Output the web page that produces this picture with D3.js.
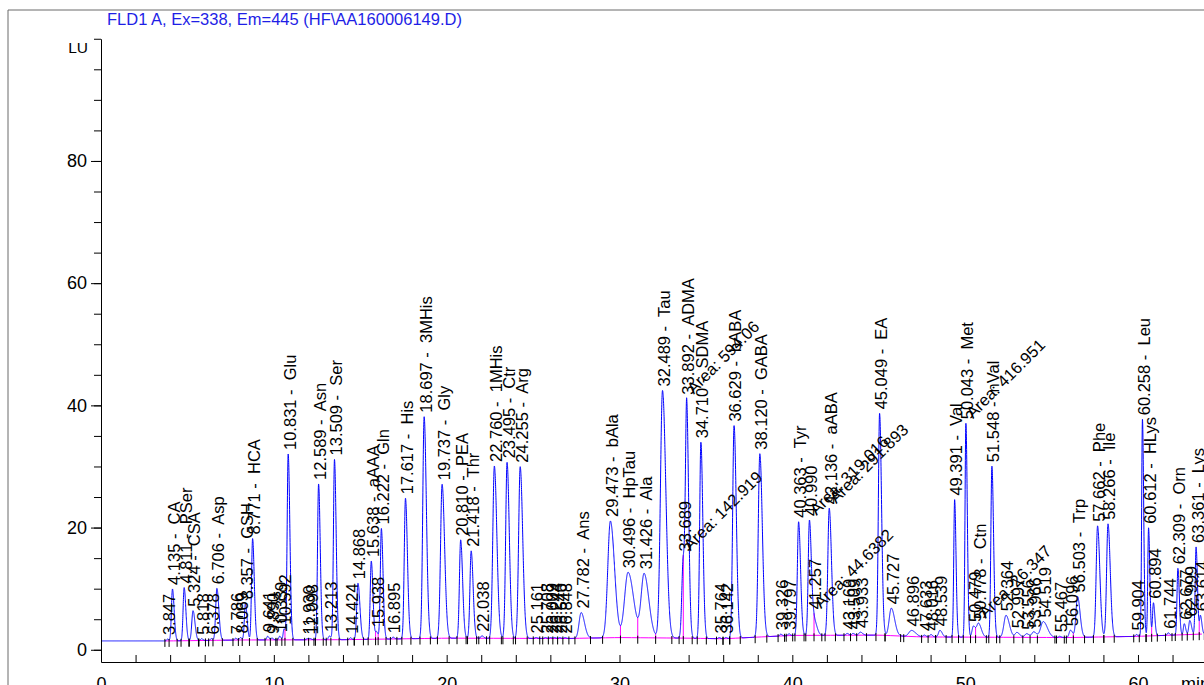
<!DOCTYPE html>
<html>
<head>
<meta charset="utf-8">
<script src="https://cdn.jsdelivr.net/npm/d3@7"></script>
<style>
  body { margin: 0; background: #fff; }
  svg { display: block; font-family: "Liberation Sans", Arial, sans-serif; }
  .lbl { white-space: pre; font-size: 16.5px; fill: #000; }
</style>
</head>
<body>
<div id="chart"></div>
<script>
// retention times (min)
const peakTimes = [
  3.847, 4.135, 4.811, 5.324, 5.818, 6.378, 6.706, 7.786, 8.069, 8.357,
  8.771, 9.641, 9.890, 10.339, 10.592, 10.831, 11.930, 12.098, 12.589, 13.213,
  13.509, 14.424, 14.868, 15.638, 15.938, 16.222, 16.895, 17.617, 18.697, 19.737,
  20.810, 21.418, 22.038, 22.760, 23.495, 24.255, 25.161, 25.708, 26.009, 26.244,
  26.540, 26.848, 27.782, 29.473, 30.496, 31.426, 32.489, 33.689, 33.892, 34.710,
  35.764, 36.142, 36.629, 38.120, 39.326, 39.797, 40.363, 40.990, 41.257, 42.136,
  43.169, 43.509, 43.933, 45.049, 45.727, 46.896, 47.633, 48.016, 48.539, 49.391,
  50.043, 50.479, 50.778, 51.548, 52.364, 52.997, 53.556, 53.966, 54.519, 55.467,
  56.096, 56.503, 57.662, 58.266, 59.904, 60.258, 60.612, 60.894, 61.744, 62.309,
  62.677, 62.999, 63.361, 63.614
];
// peak heights above baseline (LU)
const peakHeights = [
  0.3, 8.5, 8.7, 4.9, 0.3, 0.3, 8.5, 0.3, 0.4, 6.0,
  16.6, 0.6, 0.3, 0.6, 1.8, 30.4, 0.2, 0.2, 25.5, 0.6,
  29.5, 0.3, 9.2, 12.8, 1.2, 18.1, 0.3, 23.0, 36.3, 25.2,
  16.1, 14.3, 0.4, 28.2, 28.8, 28.1, 0.15, 0.15, 0.15, 0.15,
  0.15, 0.15, 4.2, 19.1, 10.7, 10.4, 40.5, 13.0, 35.5, 32.1,
  0.2, 0.2, 34.8, 30.0, 0.3, 0.3, 18.6, 18.8, 2.5, 20.8,
  0.3, 0.3, 0.5, 36.3, 4.5, 1.0, 0.3, 0.4, 1.1, 22.5,
  35.0, 1.8, 2.2, 28.0, 3.6, 0.8, 0.6, 0.9, 2.6, 0.2,
  1.2, 6.7, 18.2, 18.5, 0.3, 35.5, 17.7, 5.4, 0.4, 10.9,
  1.8, 2.3, 14.3, 3.0
];
// peak widths (front sigma, min)
const peakWidths = [
  0.05, 0.06, 0.06, 0.07, 0.05, 0.05, 0.07, 0.05, 0.05, 0.06,
  0.06, 0.05, 0.05, 0.05, 0.05, 0.06, 0.05, 0.05, 0.06, 0.06,
  0.06, 0.05, 0.07, 0.06, 0.06, 0.06, 0.05, 0.07, 0.08, 0.09,
  0.07, 0.07, 0.06, 0.09, 0.08, 0.09, 0.05, 0.05, 0.05, 0.05,
  0.05, 0.05, 0.12, 0.15, 0.2, 0.17, 0.12, 0.08, 0.07, 0.07,
  0.05, 0.05, 0.08, 0.09, 0.05, 0.05, 0.07, 0.07, 0.1, 0.08,
  0.06, 0.06, 0.08, 0.07, 0.12, 0.15, 0.06, 0.06, 0.08, 0.05,
  0.05, 0.08, 0.1, 0.06, 0.12, 0.1, 0.1, 0.1, 0.15, 0.06,
  0.08, 0.09, 0.08, 0.08, 0.05, 0.045, 0.045, 0.05, 0.05, 0.05,
  0.05, 0.06, 0.05, 0.05
];
const peakNames = [
  "", "CA", "PSer", "CSA", "", "", "Asp", "", "", "GSH",
  "HCA", "", "", "", "", "Glu", "", "", "Asn", "",
  "Ser", "", "", "aAAA", "", "Gln", "", "His", "3MHis", "Gly",
  "PEA", "Thr", "", "1MHis", "Ctr", "Arg", "", "", "", "",
  "", "", "Ans", "bAla", "HpTau", "Ala", "Tau", "", "ADMA", "SDMA",
  "", "", "bABA", "GABA", "", "", "Tyr", "", "", "aABA",
  "", "", "", "EA", "", "", "", "", "", "Val",
  "Met", "", "Ctn", "nVal", "", "", "", "", "", "",
  "", "Trp", "Phe", "Ile", "", "Leu", "HLys", "", "", "Orn",
  "", "", "Lys", ""
];
const areaTimes = [33.689, 33.892, 40.990, 41.257, 42.136, 50.043, 50.778];
const areaTexts = ["Area: 142.919", "Area: 594.06", "Area: 319.016", "Area: 44.6382",
                   "Area: 291.893", "Area: 416.951", "Area: 26.347"];
const baseTimes = [0, 4, 8, 14, 20, 27, 30, 34, 36, 40, 45, 47.5, 56, 60, 64];
const baseValues = [1.45, 1.45, 1.6, 1.65, 1.9, 1.85, 2.0, 1.9, 1.8, 2.35, 2.4, 2.1, 2.0, 2.2, 2.6];
const yMajorTicks = [0, 20, 40, 60, 80];
const xLabelTicks = [0, 10, 20, 30, 40, 50, 60];

const width = 1204, height = 685;
const margin = { left: 101, top: 38.75, axisY: 662 };

const svg = d3.select("#chart").append("svg")
  .attr("width", width).attr("height", height);

const x = d3.scaleLinear().domain([0, 64]).range([margin.left, margin.left + 64 * 17.283]);
const y = d3.scaleLinear().domain([-2, 100]).range([margin.axisY, margin.top]);
const base = d3.scaleLinear().domain(baseTimes).range(baseValues);

// outer frame
svg.append("path")
  .attr("d", `M8,${height} V10 H${width}`)
  .attr("fill", "none").attr("stroke", "#6b6b6b").attr("stroke-width", 1);

svg.append("text")
  .attr("x", 107).attr("y", 25)
  .attr("font-size", 16.5).attr("fill", "#1e1ee6")
  .text("FLD1 A, Ex=338, Em=445 (HF\\AA160006149.D)");

// peak model
const peaks = peakTimes.map((t, i) => ({ t, h: peakHeights[i], w: peakWidths[i], name: peakNames[i] }));
function peakPart(p, t) {
  const d = t - p.t;
  const s = d < 0 ? p.w : p.w * 1.6;
  return p.h * Math.exp(-0.5 * (d / s) * (d / s));
}
function signal(t) {
  let v = base(t);
  for (const p of peaks) {
    if (Math.abs(t - p.t) < p.w * 10) v += peakPart(p, t);
  }
  return v;
}

const samples = d3.range(0, 64.001, 0.004).map(t => [t, signal(t)]);

svg.append("defs").append("clipPath").attr("id", "plot-clip")
  .append("rect").attr("x", margin.left).attr("y", 0)
  .attr("width", width - margin.left).attr("height", margin.axisY);

const plot = svg.append("g").attr("clip-path", "url(#plot-clip)");

// integration baseline
const baseLine = d3.line().x(d => x(d)).y(d => y(base(d)));
plot.append("path")
  .attr("d", baseLine(d3.range(3.7, 64.001, 0.5)))
  .attr("fill", "none").attr("stroke", "#ff00ff").attr("stroke-width", 1);

// integration boundaries between consecutive peaks
const marks = [];
marks.push({ t: peaks[0].t - 3 * peaks[0].w, drop: false });
for (let i = 0; i < peaks.length - 1; i++) {
  const a = peaks[i], b = peaks[i + 1];
  const endA = a.t + 4.5 * a.w, startB = b.t - 3 * b.w;
  if (endA < startB) {
    marks.push({ t: endA, drop: false });
    marks.push({ t: startB, drop: false });
  } else {
    const inside = samples.filter(s => s[0] > a.t && s[0] < b.t);
    const low = d3.least(inside, s => s[1] - base(s[0]));
    if (low) marks.push({ t: low[0], drop: low[1] - base(low[0]) > 0.6 });
  }
}
const last = peaks[peaks.length - 1];
marks.push({ t: last.t + 4.5 * last.w, drop: false });

plot.selectAll(".drop").data(marks.filter(m => m.drop)).join("line")
  .attr("class", "drop")
  .attr("x1", d => x(d.t)).attr("x2", d => x(d.t))
  .attr("y1", d => y(base(d.t))).attr("y2", d => y(signal(d.t)))
  .attr("stroke", "#ff00ff").attr("stroke-width", 1);

// chromatogram trace
const line = d3.line().x(d => x(d[0])).y(d => y(d[1]));
plot.append("path")
  .attr("d", line(samples))
  .attr("fill", "none").attr("stroke", "#0000ff").attr("stroke-width", 1);

plot.selectAll(".mark").data(marks).join("line")
  .attr("class", "mark")
  .attr("x1", d => x(d.t)).attr("x2", d => x(d.t))
  .attr("y1", d => y(base(d.t)) - 2).attr("y2", d => y(base(d.t)) + 6)
  .attr("stroke", "#000").attr("stroke-width", 1);

// peak labels
const labels = svg.append("g");
labels.selectAll(".lbl").data(peaks).join("text")
  .attr("class", "lbl")
  .attr("transform", d => `translate(${x(d.t)},${y(signal(d.t)) - 4}) rotate(-90)`)
  .attr("dy", "0.45em")
  .text(d => d.t.toFixed(3) + (d.name ? " -  " + d.name : ""));

labels.selectAll(".area").data(areaTimes).join("text")
  .attr("class", "lbl area")
  .attr("transform", d => `translate(${x(d) + 7},${y(signal(d)) - 4}) rotate(-45)`)
  .text((d, i) => areaTexts[i]);

// y axis
const yMinor = d3.axisLeft(y).tickValues(d3.range(0, 101, 5)).tickSize(7).tickSizeOuter(0).tickFormat("");
svg.append("g").attr("transform", `translate(${margin.left},0)`).call(yMinor);
const yMajor = d3.axisLeft(y).tickValues(yMajorTicks).tickSize(10).tickSizeOuter(0).tickPadding(4);
const yG = svg.append("g").attr("transform", `translate(${margin.left},0)`).call(yMajor);
yG.select(".domain").remove();
yG.selectAll("text").attr("font-size", 18).attr("font-family", null).attr("fill", "#000");

svg.append("text").attr("x", 88).attr("y", 53).attr("text-anchor", "end")
  .attr("font-size", 15.5).attr("fill", "#000").text("LU");

// x axis
const xAxis = d3.axisBottom(x).tickValues(d3.range(0, 65, 2)).tickSizeInner(-7).tickSizeOuter(0)
  .tickPadding(15).tickFormat(d => xLabelTicks.includes(d) ? d : "");
const xG = svg.append("g").attr("transform", `translate(0,${margin.axisY})`).call(xAxis);
xG.selectAll("text").attr("font-size", 18).attr("font-family", null).attr("fill", "#000");

svg.append("text").attr("x", 1181).attr("y", margin.axisY + 15).attr("dy", "0.71em")
  .attr("font-size", 18).text("min");
</script>
</body>
</html>
